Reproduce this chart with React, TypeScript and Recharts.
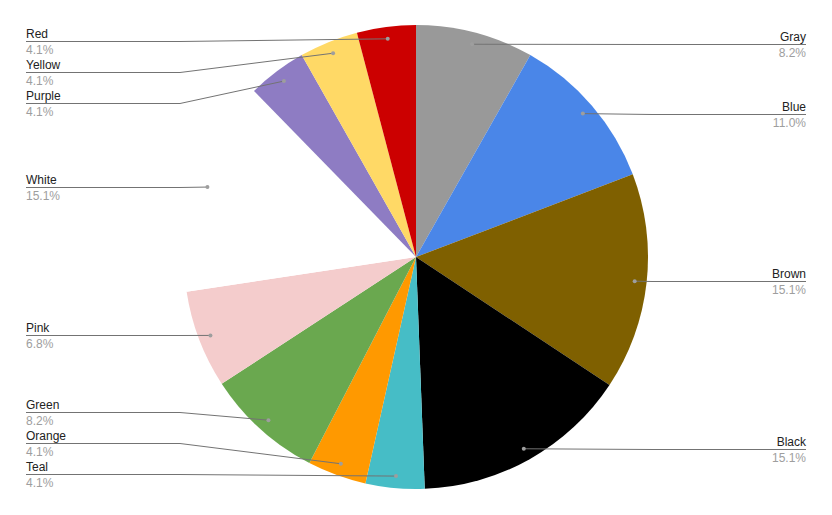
import React from 'react';
import { PieChart, Pie, Cell } from 'recharts';

const NAMES = ['Gray', 'Blue', 'Brown', 'Black', 'Teal', 'Orange', 'Green', 'Pink', 'White', 'Purple', 'Yellow', 'Red'];
const SHARES = [8.2, 11.0, 15.1, 15.1, 4.1, 4.1, 8.2, 6.8, 15.1, 4.1, 4.1, 4.1];
const COLORS = ['#999999', '#4a86e8', '#7f6000', '#000000', '#46bdc6', '#ff9900', '#6aa84f', '#f4cccc', '#ffffff', '#8e7cc3', '#ffd966', '#cc0000'];

const data = NAMES.map((name, i) => ({ name, value: SHARES[i] }));

const W = 832;
const H = 515;
const CX = 416;
const CY = 257;
const R = 232;
const GAP = 31;
const FONT = '"Liberation Sans", Arial, sans-serif';

type Lay = { x: number; y: number; ly: number; left: boolean };

function layoutLabels(cx: number, cy: number, r: number): Lay[] {
  const total = SHARES.reduce((a, b) => a + b, 0);
  let acc = 0;
  const items: (Lay & { i: number })[] = SHARES.map((v, i) => {
    const mid = ((acc + v / 2) / total) * 360;
    acc += v;
    const rad = (mid * Math.PI) / 180;
    const dr = r - 12;
    const x = cx + dr * Math.sin(rad);
    const y = cy - dr * Math.cos(rad);
    return { i, x, y, ly: y, left: mid > 180 };
  });
  const minY = cy - 216;
  const maxY = cy + 216.5;
  [true, false].forEach((side) => {
    const group = items.filter((it) => it.left === side).sort((a, b) => a.y - b.y);
    for (let k = 0; k < group.length; k++) {
      const lo = k === 0 ? minY : group[k - 1].ly + GAP;
      group[k].ly = Math.max(group[k].ly, lo);
    }
    for (let k = group.length - 1; k >= 0; k--) {
      const hi = k === group.length - 1 ? maxY : group[k + 1].ly - GAP;
      group[k].ly = Math.min(group[k].ly, hi);
    }
  });
  const out: Lay[] = [];
  items.forEach((it) => (out[it.i] = it));
  return out;
}

const renderLabel = (props: any) => {
  const { cx, cy, midAngle, outerRadius, index, name, value } = props;
  const lay = layoutLabels(cx, cy, outerRadius)[index];
  const rad = (-midAngle * Math.PI) / 180;
  const dx = cx + (outerRadius - 12) * Math.cos(rad);
  const dy = cy + (outerRadius - 12) * Math.sin(rad);
  const left = lay.left;
  const ly = Math.round(lay.ly) + 0.5;
  const endX = left ? cx - 390 : cx + 390;
  const elbowX = left ? cx - 236 : cx + 236;
  return (
    <g key={`lbl-${index}`}>
      <path
        d={`M${dx},${dy} L${elbowX},${ly} L${endX},${ly}`}
        stroke="#737373"
        strokeWidth={1}
        fill="none"
      />
      <circle cx={dx} cy={dy} r={2} fill="#9e9e9e" />
      <text x={endX} y={ly - 4} textAnchor={left ? 'start' : 'end'} fontFamily={FONT} fontSize={12} fill="#222222">
        {name}
      </text>
      <text x={endX} y={ly + 12} textAnchor={left ? 'start' : 'end'} fontFamily={FONT} fontSize={12} fill="#9e9e9e">
        {`${Number(value).toFixed(1)}%`}
      </text>
    </g>
  );
};

export default function App() {
  return (
    <div style={{ position: 'absolute', left: 0, top: 0, width: W, height: H, background: '#fff' }}>
      <PieChart width={W} height={H} margin={{ top: 0, right: 0, bottom: 0, left: 0 }}>
        <Pie
          data={data}
          dataKey="value"
          nameKey="name"
          cx={CX}
          cy={CY}
          outerRadius={R}
          startAngle={90}
          endAngle={-270}
          stroke="none"
          label={renderLabel}
          labelLine={false}
          isAnimationActive={false}
        >
          {data.map((d, i) => (
            <Cell key={d.name} fill={COLORS[i]} stroke="none" />
          ))}
        </Pie>
      </PieChart>
    </div>
  );
}
